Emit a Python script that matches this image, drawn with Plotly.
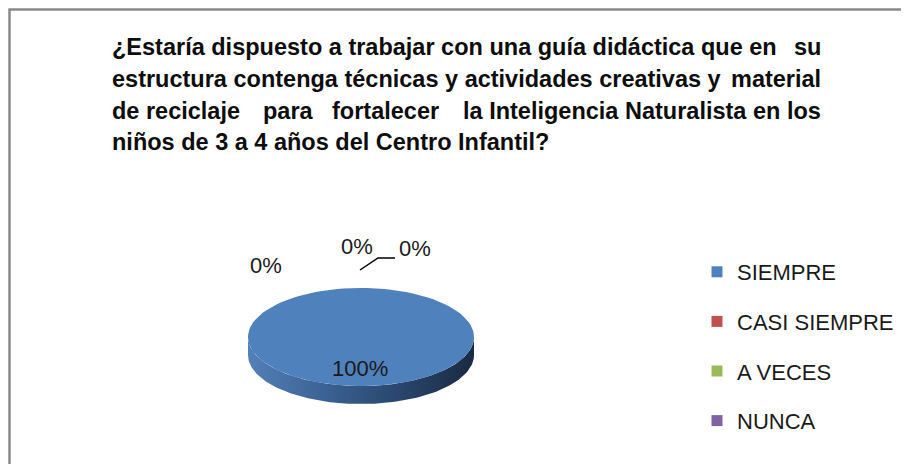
import numpy as np
import plotly.graph_objects as go

# datos de la encuesta
categorias = ["SIEMPRE", "CASI SIEMPRE", "A VECES", "NUNCA"]
valores = [100, 0, 0, 0]
colores = ["#4F81BD", "#C0504D", "#9BBB59", "#8064A2"]

titulo_lineas = [
    ["¿Estaría dispuesto a trabajar con una guía didáctica que en", "su"],
    ["estructura contenga técnicas y actividades creativas y", "material"],
    ["de reciclaje", "para", "fortalecer", "la Inteligencia Naturalista en los"],
    ["niños de 3 a 4 años del Centro Infantil?"],
]

# la pagina tiene 8px de margen en el body: se trabaja en pixeles de ventana
OFF = 8
W, H = 909, 464
# geometria del pastel (pixeles)
cx, cy, rx, ry, prof = 361, 337, 113, 49, 18

# posiciones de etiquetas: (x, y) para cada categoria
pos_etiquetas = [(360, 368), (266, 265), (357, 246), (415, 248)]

total = sum(valores)
fracs = [v / total for v in valores]

fig = go.Figure()


def arco(a0, a1, n=120, dy=0):
    t = np.radians(np.linspace(a0, a1, n))
    return cx + rx * np.sin(t), cy - ry * np.cos(t) + dy


# lado 3D (solo la mitad frontal)
inicio = 0.0
for f, c in zip(fracs, colores):
    a0, a1 = inicio, inicio + f * 360
    inicio = a1
    lo, hi = max(a0, 90), min(a1, 270)
    if hi <= lo:
        continue
    xs, ys = arco(lo, hi)
    xb, yb = arco(hi, lo, dy=prof)
    fig.add_trace(go.Scatter(
        x=np.concatenate([xs, xb]), y=np.concatenate([ys, yb]),
        mode="lines", line=dict(width=0), fill="toself",
        fillgradient=dict(type="horizontal",
                          colorscale=[[0, "#5380B8"], [0.4, "#375D8D"], [1, "#1A2A42"]]),
        hoverinfo="skip", showlegend=False))

# cara superior
inicio = 0.0
for cat, f, c in zip(categorias, fracs, colores):
    a0, a1 = inicio, inicio + f * 360
    inicio = a1
    if f == 0:
        continue
    xs, ys = arco(a0, a1)
    fig.add_trace(go.Scatter(
        x=np.concatenate([[cx], xs, [cx]]), y=np.concatenate([[cy], ys, [cy]]),
        mode="lines", line=dict(width=0), fill="toself", fillcolor=c,
        name=cat, hoverinfo="skip", showlegend=False))

# leyenda
for i, (cat, c) in enumerate(zip(categorias, colores)):
    fig.add_trace(go.Scatter(
        x=[None], y=[None], mode="markers", name=cat, legendgroup=str(i),
        marker=dict(symbol="square", size=11, color=c)))

# etiquetas de porcentaje
for v, (px_, py_) in zip(valores, pos_etiquetas):
    fig.add_annotation(x=px_, y=py_, text=f"{v / total * 100:.0f}%", showarrow=False,
                       font=dict(family="Liberation Sans", size=22, color="#1a1a1a"))

# titulo (justificado aproximado)
ys_titulo = [47, 79, 111, 142]
for partes, yt in zip(titulo_lineas, ys_titulo):
    if len(partes) == 1:
        xs_p, anc = [110], ["left"]
    elif len(partes) == 2:
        xs_p, anc = [110, 823], ["left", "right"]
    else:
        xs_p, anc = [110, 288, 385, 823], ["left", "center", "center", "right"]
    for txt, xp, a in zip(partes, xs_p, anc):
        fig.add_annotation(x=xp, y=yt, text=f"<b>{txt}</b>", showarrow=False, xanchor=a,
                           font=dict(family="Liberation Sans", size=23.5, color="#0d0d0d"))

fig.update_layout(
    width=W - OFF, height=H - OFF, autosize=False,
    margin=dict(l=0, r=0, t=0, b=0),
    paper_bgcolor="white", plot_bgcolor="white",
    xaxis=dict(range=[OFF, W], visible=False, fixedrange=True),
    yaxis=dict(range=[H, OFF], visible=False, fixedrange=True),
    legend=dict(x=(697 - OFF) / (W - OFF), y=1 - (251 - OFF) / (H - OFF),
                xanchor="left", yanchor="top",
                tracegroupgap=18, bgcolor="rgba(0,0,0,0)",
                font=dict(family="Liberation Sans", size=22, color="#1a1a1a")),
    shapes=[
        dict(type="path", xref="x", yref="y", path="M 360 270 L 378 258 L 395 258",
             line=dict(color="black", width=1.5)),
        dict(type="rect", xref="x", yref="y", x0=9.5, y0=9.5, x1=W + 10, y1=H + 10,
             line=dict(color="#8a8a8a", width=2.5)),
    ],
)

fig.write_html("out.html")
